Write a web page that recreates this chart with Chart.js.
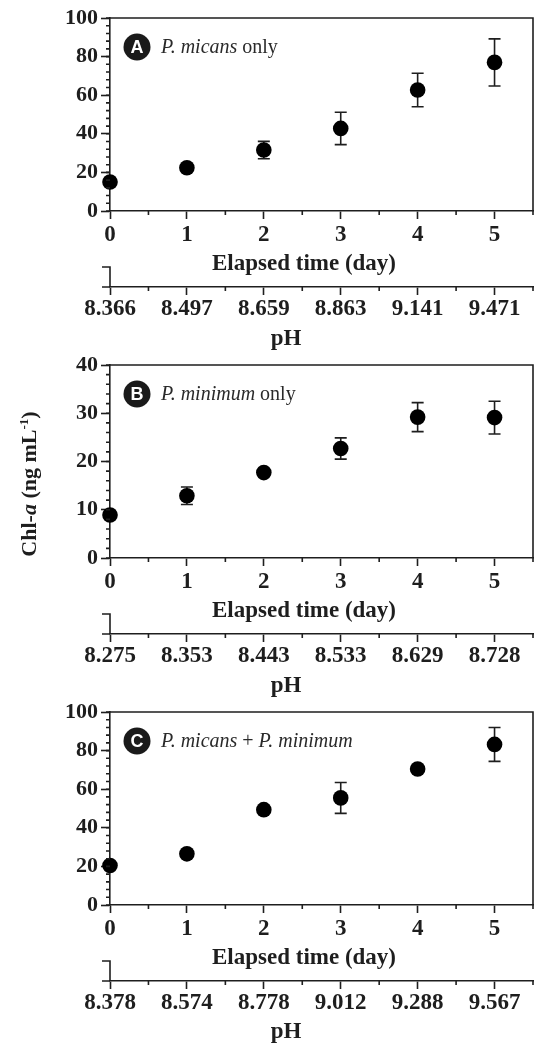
<!DOCTYPE html>
<html>
<head>
<meta charset="utf-8">
<script src="https://cdn.jsdelivr.net/npm/chart.js@4.4.1/dist/chart.umd.min.js"></script>
<style>
  html, body { margin: 0; padding: 0; background: #fff; }
  body { width: 535px; height: 1043px; position: relative; overflow: hidden; }
  canvas { position: absolute; left: 0; }
  #ylabel {
    position: absolute; width: 240px; left: -91px; top: 473px;
    text-align: center; white-space: nowrap; color: #1e1e1e;
    font: bold 22px/22px 'Liberation Serif', 'Times New Roman', serif;
    transform: rotate(-90deg);
  }
  #ylabel sup { font-size: 13px; vertical-align: 8px; line-height: 0; }
</style>
</head>
<body>
<canvas id="panelA" width="535" height="350" style="top:0px"></canvas>
<canvas id="panelB" width="535" height="350" style="top:347px"></canvas>
<canvas id="panelC" width="535" height="349" style="top:694px"></canvas>
<div id="ylabel">Chl-<i>a</i> (ng mL<sup>-1</sup>)</div>
<script>
// x positions (elapsed days) shared by all panels
const days = [0, 1, 2, 3, 4, 5];
const xEnd = 5.5;

// pH read at each day, shown on the lower axis
const phA = ['8.366', '8.497', '8.659', '8.863', '9.141', '9.471'];
const phB = ['8.275', '8.353', '8.443', '8.533', '8.629', '8.728'];
const phC = ['8.378', '8.574', '8.778', '9.012', '9.288', '9.567'];

// Chl-a means and error (± SD)
const chlA = [15.0, 22.4, 31.6, 42.8, 62.7, 77.0];
const errA = [1.5, 1.5, 4.5, 8.4, 8.7, 12.2];
const chlB = [8.9, 12.9, 17.7, 22.7, 29.2, 29.1];
const errB = [0.6, 1.8, 0.6, 2.2, 3.0, 3.4];
const chlC = [20.5, 26.5, 49.4, 55.5, 70.5, 83.2];
const errC = [1.5, 1.5, 1.5, 8.0, 1.5, 8.8];

const ink = '#1e1e1e';
const serif = "'Liberation Serif', 'Times New Roman', serif";
const halfDays = [0.5, 1.5, 2.5, 3.5, 4.5, 5.5];

const decor = {
    id: 'decor',
    beforeDatasetsDraw(chart, args, opts) {
        const { ctx } = chart;
        const x = chart.scales.x, y = chart.scales.y;
        const ds = chart.data.datasets[0];
        ctx.save();
        ctx.strokeStyle = ink;
        ctx.lineWidth = 1.6;
        ds.data.forEach((p, i) => {
            const e = opts.errors[i];
            const px = x.getPixelForValue(p.x);
            const top = y.getPixelForValue(p.y + e);
            const bot = y.getPixelForValue(p.y - e);
            ctx.beginPath();
            ctx.moveTo(px, top); ctx.lineTo(px, bot);
            ctx.moveTo(px - 6, top); ctx.lineTo(px + 6, top);
            ctx.moveTo(px - 6, bot); ctx.lineTo(px + 6, bot);
            ctx.stroke();
        });
        ctx.restore();
    },
    afterDraw(chart, args, opts) {
        const { ctx, chartArea: a } = chart;
        const x = chart.scales.x, x2 = chart.scales.x2, y = chart.scales.y;
        ctx.save();
        ctx.strokeStyle = ink;
        ctx.lineWidth = 1.6;
        ctx.beginPath();
        // top + right frame
        ctx.moveTo(a.left, a.top); ctx.lineTo(a.right, a.top); ctx.lineTo(a.right, a.bottom);
        // y minor ticks
        for (let v = 0; v <= y.max + 1e-9; v += opts.yMinor) {
            const py = y.getPixelForValue(v);
            ctx.moveTo(a.left - 4, py); ctx.lineTo(a.left, py);
        }
        // x minor ticks on both axes
        for (const s of [x, x2]) {
            for (const v of halfDays) {
                const px = s.getPixelForValue(v);
                ctx.moveTo(px, s.top); ctx.lineTo(px, s.top + 4);
            }
        }
        // bracket at the start of the pH axis
        const x0 = x2.getPixelForValue(0);
        ctx.moveTo(x0 - 8, x2.top - 20); ctx.lineTo(x0, x2.top - 20); ctx.lineTo(x0, x2.top);
        ctx.moveTo(x0 - 8, x2.top); ctx.lineTo(x0, x2.top);
        ctx.stroke();

        // axis titles (set a little left of the axis centre, as in the figure)
        ctx.fillStyle = ink;
        ctx.font = 'bold 23px ' + serif;
        ctx.textAlign = 'center';
        ctx.textBaseline = 'middle';
        ctx.fillText('Elapsed time (day)', a.left + 194, x.bottom - 23);
        ctx.fillText('pH', a.left + 176, x2.bottom - 11);

        // panel tag
        const cx = a.left + 27, cy = a.top + 29;
        ctx.fillStyle = '#1a1a1a';
        ctx.beginPath();
        ctx.arc(cx, cy, 13.5, 0, Math.PI * 2);
        ctx.fill();
        ctx.fillStyle = '#fff';
        ctx.font = "bold 18px 'Liberation Sans', 'DejaVu Sans', sans-serif";
        ctx.fillText(opts.letter, cx, cy + 1);

        ctx.fillStyle = '#2a2a2a';
        ctx.textAlign = 'left';
        ctx.textBaseline = 'alphabetic';
        let tx = a.left + 51;
        for (const part of opts.parts) {
            ctx.font = (part.italic ? 'italic ' : '') + '20px ' + serif;
            ctx.fillText(part.text, tx, cy + 6);
            tx += ctx.measureText(part.text).width;
        }
        ctx.restore();
    }
};

function tickFont(size) {
    return { family: serif, size: size, weight: 'bold' };
}

// ticks at each day plus an unlabeled one at the axis end
function setDayTicks(s) {
    s.ticks = days.concat([xEnd]).map(v => ({ value: v }));
}

const majorTickColor = c => (c.tick && c.tick.value === xEnd ? 'rgba(0,0,0,0)' : ink);

function makePanel(id, values, errors, phLabels, yMax, yStep, yMinor, letter, parts) {
    const canvas = document.getElementById(id);
    return new Chart(canvas.getContext('2d'), {
        type: 'scatter',
        data: {
            datasets: [{
                data: days.map((d, i) => ({ x: d, y: values[i] })),
                pointRadius: 7.8,
                pointBackgroundColor: '#000',
                pointBorderWidth: 0,
                showLine: false,
                clip: false,
            }]
        },
        options: {
            responsive: false,
            animation: false,
            layout: { autoPadding: false, padding: { top: 18, right: 2, left: 0, bottom: 0 } },
            plugins: {
                legend: { display: false },
                tooltip: { enabled: false },
                decor: { errors, yMinor, letter, parts },
            },
            scales: {
                x: {
                    type: 'linear', position: 'bottom', weight: 0, min: 0, max: xEnd,
                    afterBuildTicks: setDayTicks,
                    afterFit: s => { s.height = 76; },
                    grid: { drawOnChartArea: false, tickLength: 8, tickColor: majorTickColor, tickWidth: 1.6 },
                    border: { display: true, color: ink, width: 1.6 },
                    ticks: { color: ink, font: tickFont(23), padding: 2, maxRotation: 0, autoSkip: false,
                        callback: (v, i) => (i < days.length ? String(days[i]) : '') },
                },
                x2: {
                    type: 'linear', position: 'bottom', weight: 1, min: 0, max: xEnd,
                    afterBuildTicks: setDayTicks,
                    afterFit: s => { s.height = s.chart.height - 18 - 193 - 76; },
                    grid: { drawOnChartArea: false, tickLength: 8, tickColor: majorTickColor, tickWidth: 1.6 },
                    border: { display: true, color: ink, width: 1.6 },
                    ticks: { color: ink, font: tickFont(23), padding: 0, maxRotation: 0, autoSkip: false,
                        callback: (v, i) => (i < phLabels.length ? phLabels[i] : '') },
                },
                y: {
                    min: 0, max: yMax,
                    afterFit: s => { s.width = 110; },
                    grid: { drawOnChartArea: false, tickLength: 9, tickColor: ink, tickWidth: 1.6 },
                    border: { display: true, color: ink, width: 1.6 },
                    ticks: { stepSize: yStep, color: ink, font: tickFont(22), padding: 3 },
                },
            },
        },
        plugins: [decor],
    });
}

makePanel('panelA', chlA, errA, phA, 100, 20, 4, 'A',
    [{ text: 'P. micans', italic: true }, { text: ' only', italic: false }]);
makePanel('panelB', chlB, errB, phB, 40, 10, 2, 'B',
    [{ text: 'P. minimum', italic: true }, { text: ' only', italic: false }]);
makePanel('panelC', chlC, errC, phC, 100, 20, 4, 'C',
    [{ text: 'P. micans', italic: true }, { text: ' + ', italic: false }, { text: 'P. minimum', italic: true }]);
</script>
</body>
</html>
